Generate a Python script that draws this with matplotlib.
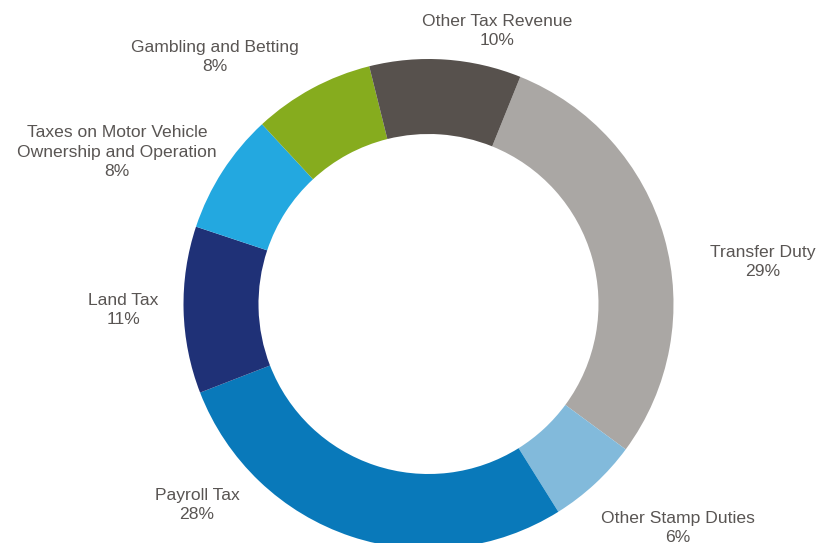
import matplotlib
matplotlib.use("Agg")
import matplotlib.pyplot as plt

plt.rcParams['font.family'] = ['Liberation Sans', 'DejaVu Sans']

# tax revenue shares, clockwise from Transfer Duty
categories = ["Transfer Duty", "Other Stamp Duties", "Payroll Tax", "Land Tax",
              "Taxes on Motor Vehicle\nOwnership and Operation",
              "Gambling and Betting", "Other Tax Revenue"]
shares = [29, 6, 28, 11, 8, 8, 10]
colors = ["#aaa7a4", "#82badb", "#0979ba", "#1f3177",
          "#23a8e0", "#86ac1e", "#57514d"]

# label block centres in pixels (x, y from top)
label_pos = [(763, 262), (678, 528), (197, 505), (123, 310),
             (117, 152), (215, 57), (497, 31)]

W, H = 821, 543
fig = plt.figure(figsize=(W / 100, H / 100), dpi=100)
ax = fig.add_axes([0, 0, 1, 1])
ax.axis('off')

cx, cy = 428.5, H - 304
r_out, r_in = 245, 170

ax.pie(shares, colors=colors, center=(cx, cy), radius=r_out,
       startangle=68, counterclock=False,
       wedgeprops=dict(width=r_out - r_in, linewidth=0))
ax.set_xlim(0, W)
ax.set_ylim(0, H)
ax.set_aspect('auto')

for name, val, (lx, ly) in zip(categories, shares, label_pos):
    ax.text(lx, H - ly, f"{name}\n{val}%", ha='center', va='center',
            multialignment='center', fontsize=12.6, color='#595553',
            linespacing=1.4)

fig.savefig("out.png", dpi=100)
